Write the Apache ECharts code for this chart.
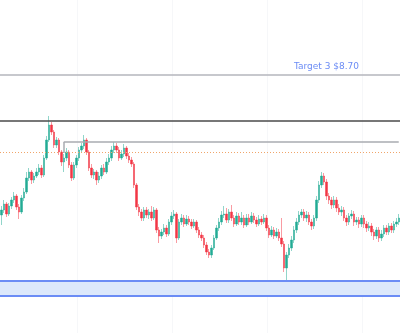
<!DOCTYPE html>
<html>
<head>
<meta charset="utf-8">
<script src="https://cdn.jsdelivr.net/npm/echarts@6/dist/echarts.min.js"></script>
<style>html,body{margin:0;padding:0;background:#fff;}#c{width:400px;height:333px;}</style>
</head>
<body>
<div id="c"></div>
<script>
// [open, close, low, high]
const candles = [
[5.90,6.00,5.70,6.08],[6.00,6.12,5.94,6.20],[6.12,5.92,5.86,6.16],[5.92,6.08,5.88,6.14],[6.08,6.20,6.02,6.26],
[6.20,6.28,6.14,6.36],[6.28,6.06,6.00,6.32],[6.06,5.96,5.82,6.12],[5.96,6.24,5.92,6.30],[6.24,6.36,6.18,6.44],
[6.36,6.64,6.32,6.76],[6.64,6.76,6.58,6.84],[6.76,6.60,6.52,6.80],[6.60,6.68,6.54,6.74],[6.68,6.76,6.64,6.84],
[6.76,6.84,6.70,6.92],[6.84,6.70,6.64,6.90],[6.70,7.04,6.66,7.10],[7.04,7.40,7.00,7.48],[7.40,7.70,7.36,7.88],
[7.70,7.56,7.50,7.76],[7.56,7.30,7.24,7.60],[7.30,7.40,7.24,7.46],[7.40,7.16,7.10,7.44],[7.16,6.96,6.88,7.20],
[6.96,7.04,6.76,7.12],[7.04,7.16,6.98,7.24],[7.16,6.90,6.84,7.20],[6.90,6.64,6.58,6.96],[6.64,6.90,6.60,6.96],
[6.90,7.04,6.84,7.10],[7.04,7.20,6.98,7.26],[7.20,7.28,7.14,7.34],[7.28,7.40,7.22,7.50],[7.40,7.16,7.10,7.44],
[7.16,6.84,6.78,7.20],[6.84,6.70,6.64,6.92],[6.70,6.76,6.62,6.82],[6.76,6.60,6.50,6.80],[6.60,6.68,6.54,6.76],
[6.68,6.84,6.62,6.90],[6.84,6.76,6.70,6.92],[6.76,6.96,6.72,7.04],[6.96,7.04,6.90,7.12],[7.04,7.20,6.98,7.28],
[7.20,7.28,7.14,7.36],[7.28,7.20,7.14,7.34],[7.20,7.04,6.98,7.26],[7.04,7.12,7.00,7.20],[7.12,7.24,7.06,7.32],
[7.24,7.08,7.02,7.28],[7.08,7.00,6.94,7.14],[7.00,6.92,6.86,7.06],[6.92,6.50,6.44,6.96],[6.50,6.06,6.00,6.54],
[6.06,5.96,5.88,6.12],[5.96,5.84,5.78,6.02],[5.84,6.00,5.78,6.06],[6.00,5.90,5.84,6.06],[5.90,5.96,5.82,6.02],
[5.96,5.84,5.78,6.08],[5.84,6.00,5.80,6.06],[6.00,5.60,5.54,6.04],[5.60,5.48,5.34,5.66],[5.48,5.56,5.42,5.62],
[5.56,5.64,5.50,5.72],[5.64,5.52,5.46,5.70],[5.52,5.76,5.48,5.82],[5.76,5.88,5.70,5.96],[5.88,5.92,5.82,6.00],
[5.92,5.44,5.34,5.96],[5.44,5.76,5.40,5.82],[5.76,5.84,5.70,5.92],[5.84,5.72,5.66,5.90],[5.72,5.82,5.68,5.90],
[5.82,5.76,5.70,5.88],[5.76,5.68,5.62,5.82],[5.68,5.76,5.64,5.82],[5.76,5.60,5.54,5.80],[5.60,5.50,5.44,5.66],
[5.50,5.44,5.38,5.56],[5.44,5.30,5.24,5.50],[5.30,5.16,5.10,5.36],[5.16,5.10,5.04,5.22],[5.10,5.24,5.04,5.30],
[5.24,5.44,5.20,5.50],[5.44,5.64,5.40,5.70],[5.64,5.76,5.58,5.84],[5.76,5.90,5.70,5.98],[5.90,5.92,5.84,6.08],
[5.92,5.80,5.74,6.04],[5.80,5.96,5.74,6.02],[5.96,5.84,5.78,6.10],[5.84,5.72,5.66,5.90],[5.72,5.88,5.68,5.96],
[5.88,5.76,5.70,5.94],[5.76,5.84,5.70,5.96],[5.84,5.70,5.64,5.90],[5.70,5.84,5.66,5.92],[5.84,5.76,5.70,5.92],
[5.76,5.88,5.72,5.96],[5.88,5.80,5.74,5.94],[5.80,5.72,5.66,5.86],[5.72,5.82,5.68,5.90],[5.82,5.76,5.70,5.88],
[5.76,5.84,5.72,5.92],[5.84,5.64,5.58,5.90],[5.64,5.50,5.44,5.70],[5.50,5.60,5.46,5.68],[5.60,5.48,5.42,5.66],
[5.48,5.56,5.44,5.64],[5.56,5.44,5.38,5.62],[5.44,5.32,5.26,5.84],[5.32,4.84,4.76,5.38],[4.84,5.10,4.56,5.16],
[5.10,5.24,5.04,5.32],[5.24,5.40,5.18,5.48],[5.40,5.60,5.34,5.68],[5.60,5.76,5.54,5.84],[5.76,5.90,5.70,5.98],
[5.90,5.96,5.84,6.02],[5.96,5.84,5.78,6.02],[5.84,5.90,5.76,5.98],[5.90,5.76,5.70,5.96],[5.76,5.68,5.60,5.82],
[5.68,5.84,5.62,5.90],[5.84,6.20,5.78,6.28],[6.20,6.50,6.14,6.58],[6.50,6.68,6.44,6.76],[6.68,6.56,6.50,6.74],
[6.56,6.28,6.20,6.62],[6.28,6.20,6.12,6.34],[6.20,6.10,6.02,6.26],[6.10,6.20,6.04,6.28],[6.20,6.04,5.96,6.26],
[6.04,5.96,5.90,6.12],[5.96,6.00,5.88,6.08],[6.00,5.84,5.78,6.06],[5.84,5.76,5.68,5.90],[5.76,5.88,5.70,5.94],
[5.88,5.92,5.82,6.00],[5.92,5.76,5.68,5.98],[5.76,5.80,5.70,5.86],[5.80,5.72,5.64,5.86],[5.72,5.84,5.66,5.90],
[5.84,5.72,5.64,5.90],[5.72,5.64,5.56,5.78],[5.64,5.68,5.58,5.76],[5.68,5.56,5.48,5.74],[5.56,5.48,5.40,5.62],
[5.48,5.60,5.42,5.66],[5.60,5.44,5.36,5.66],[5.44,5.52,5.38,5.60],[5.52,5.64,5.46,5.70],[5.64,5.56,5.50,5.70],
[5.56,5.68,5.50,5.74],[5.68,5.60,5.54,5.74],[5.60,5.72,5.54,5.78],[5.72,5.76,5.66,5.84],[5.76,5.84,5.70,5.92]
];
const target3 = 8.70;
const target3Label = 'Target 3 $8.70';
const darkLevel = 7.78;
const bracketLevel = 7.36;
const bracketStartIndex = 25;
const bracketBottom = 7.14;
const entryLevel = 7.16;
const stopZone = [4.58, 4.28];
const yRange = [3.54, 10.20];

const chart = echarts.init(document.getElementById('c'), null, {renderer: 'canvas'});
const lastIdx = candles.length - 1;
const zoneLine = {color: '#6b8cf5', width: 2, type: 'solid'};
chart.setOption({
  animation: false,
  backgroundColor: '#ffffff',
  grid: {left: 0, right: 0, top: 0, bottom: 0},
  xAxis: {
    type: 'category',
    boundaryGap: true,
    axisLine: {show: false}, axisTick: {show: false}, axisLabel: {show: false},
    splitLine: {show: true, lineStyle: {color: '#f6f7f9', width: 1},
      interval: function (i) { return i >= 31 && (i - 31) % 38 === 0; }}
  },
  yAxis: {
    type: 'value', min: yRange[0], max: yRange[1], scale: true,
    axisLine: {show: false}, axisTick: {show: false}, axisLabel: {show: false},
    splitLine: {show: false}
  },
  series: [{
    type: 'candlestick',
    data: candles,
    barWidth: 2,
    itemStyle: {color: '#22ab94', color0: '#f23645', borderColor: '#22ab94', borderColor0: '#f23645', borderWidth: 0.5},
    markArea: {
      silent: true,
      itemStyle: {color: '#dce8fb', borderWidth: 0},
      data: [[{yAxis: stopZone[0]}, {yAxis: stopZone[1]}]]
    },
    markLine: {
      silent: true, symbol: ['none', 'none'],
      data: [
        {yAxis: target3, lineStyle: {color: '#b4b6bc', width: 1.5, type: 'solid'},
          label: {show: true, position: 'insideEndTop', formatter: target3Label, color: '#6b8cf5',
            fontFamily: 'DejaVu Sans', fontSize: 9, distance: [41, 4]}},
        {yAxis: darkLevel, lineStyle: {color: '#4a4a4a', width: 1.5, type: 'solid'}, label: {show: false}},
        {yAxis: entryLevel, lineStyle: {color: '#f0a56a', width: 1, type: [1, 2]}, label: {show: false}},
        {yAxis: stopZone[0], lineStyle: zoneLine, label: {show: false}},
        {yAxis: stopZone[1], lineStyle: zoneLine, label: {show: false}},
        [{coord: [bracketStartIndex, bracketBottom], lineStyle: {color: '#a9abb0', width: 1.5, type: 'solid'}, label: {show: false}},
         {coord: [bracketStartIndex, bracketLevel]}],
        [{coord: [bracketStartIndex, bracketLevel], lineStyle: {color: '#a9abb0', width: 1.5, type: 'solid'}, label: {show: false}},
         {coord: [lastIdx, bracketLevel]}]
      ]
    }
  }]
});
</script>
</body>
</html>
